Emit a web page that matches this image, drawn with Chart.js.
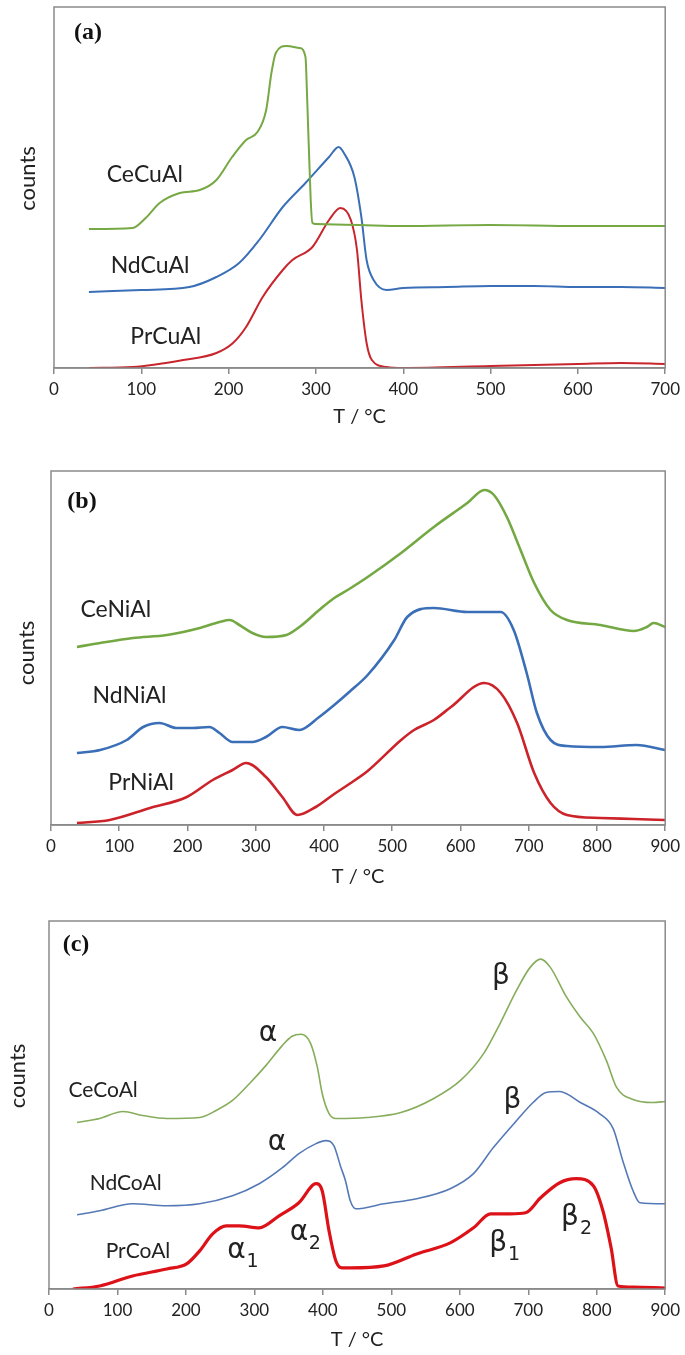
<!DOCTYPE html>
<html>
<head>
<meta charset="utf-8">
<title>TPR profiles</title>
<script src="https://cdn.jsdelivr.net/npm/chart.js@4.4.1/dist/chart.umd.min.js"></script>
<style>
  body { margin: 0; background: #fff; width: 685px; height: 1355px; position: relative; overflow: hidden; }
  .panel { position: absolute; left: 0; width: 685px; }
</style>
</head>
<body>
<div class="panel" style="top:0;height:440px"><canvas id="chartA"></canvas></div>
<div class="panel" style="top:440px;height:460px"><canvas id="chartB"></canvas></div>
<div class="panel" style="top:900px;height:455px"><canvas id="chartC"></canvas></div>
<script>
// ============================================
// Data (T in °C, counts in arbitrary units)
// ============================================

// (a) CuAl series
const cuT_Ce = [40, 90, 105, 121, 144, 167, 186, 204, 220, 233, 243, 249, 254, 266, 281, 288, 290, 294, 296, 300, 350, 400, 500, 600, 700];
const cuCe   = [139, 140, 150, 165, 175, 178, 188, 211, 228, 236, 258, 295, 315, 322, 320, 311, 268, 168, 145, 144, 143, 142, 143, 142, 142];
const cuT_Nd = [40, 100, 155, 186, 212, 235, 262, 288, 315, 326, 332, 344, 352, 358, 366, 381, 400, 450, 500, 550, 600, 650, 700];
const cuNd   = [76, 78, 81, 91, 105, 128, 161, 185, 211, 221, 215, 191, 151, 108, 88, 78, 80, 81, 82, 82, 81, 81, 80];
const cuT_Pr = [40, 90, 148, 186, 205, 220, 239, 262, 273, 296, 315, 328, 340, 347, 352, 358, 364, 381, 400, 500, 600, 650, 700];
const cuPr   = [0, 1, 8, 15, 25, 41, 71, 98, 108, 121, 148, 160, 148, 118, 68, 25, 8, 1, 0, 2, 4, 5, 4];
const cuNames      = ['CeCuAl', 'NdCuAl', 'PrCuAl'];
const cuNameT      = [104, 110, 128];
const cuNameCounts = [193, 102, 31];

// (b) NiAl series
const niT_Ce = [38, 72, 120, 170, 218, 247, 262, 276, 295, 315, 345, 364, 393, 415, 437, 464, 513, 561, 610, 635, 649, 668, 688, 708, 732, 756, 805, 854, 873, 883, 900];
const niCe   = [178, 182, 187, 190, 197, 203, 205, 200, 192, 188, 190, 198, 215, 227, 236, 248, 272, 298, 322, 335, 330, 308, 275, 242, 215, 205, 200, 194, 198, 202, 198];
const niT_Nd = [38, 72, 111, 135, 159, 184, 208, 232, 247, 266, 295, 315, 339, 364, 393, 415, 437, 464, 503, 522, 561, 610, 659, 678, 697, 712, 732, 756, 805, 858, 900];
const niNd   = [72, 75, 85, 98, 102, 97, 97, 98, 92, 83, 83, 88, 98, 95, 108, 120, 133, 150, 185, 208, 217, 213, 213, 195, 152, 112, 85, 79, 78, 80, 75];
const niT_Pr = [38, 86, 145, 199, 237, 266, 286, 315, 339, 361, 388, 415, 437, 464, 513, 532, 561, 586, 635, 659, 683, 708, 732, 756, 805, 854, 900];
const niPr   = [2, 5, 17, 28, 45, 55, 62, 48, 28, 10, 18, 31, 41, 54, 85, 95, 105, 118, 142, 132, 102, 52, 22, 10, 7, 6, 5];
const niNames      = ['CeNiAl', 'NdNiAl', 'PrNiAl'];
const niNameT      = [95, 115, 132];
const niNameCounts = [215, 129, 42];

// (c) CoAl series
const coT_Ce = [41, 74, 108, 137, 172, 220, 244, 268, 293, 317, 341, 355, 368, 382, 392, 399, 409, 419, 464, 514, 562, 601, 635, 659, 683, 703, 718, 732, 756, 776, 795, 814, 829, 853, 882, 900];
const coCe   = [166, 170, 177, 173, 170, 171, 178, 188, 205, 223, 243, 252, 254, 245, 221, 195, 175, 170, 171, 176, 190, 208, 235, 265, 298, 321, 329, 321, 291, 271, 255, 228, 201, 189, 186, 187];
const coT_Nd = [41, 74, 122, 172, 220, 268, 307, 341, 365, 390, 404, 416, 426, 433, 440, 448, 489, 537, 586, 620, 649, 683, 707, 726, 746, 776, 804, 824, 838, 853, 863, 900];
const coNd   = [74, 78, 85, 83, 85, 93, 105, 121, 135, 145, 148, 143, 122, 108, 88, 80, 85, 90, 100, 115, 141, 168, 186, 196, 197, 186, 175, 160, 128, 98, 86, 85];
const coT_Pr = [35, 74, 122, 172, 201, 220, 239, 259, 278, 307, 336, 365, 390, 399, 409, 419, 428, 441, 489, 537, 586, 620, 645, 674, 696, 718, 746, 770, 795, 809, 821, 831, 853, 900];
const coPr   = [0, 3, 13, 20, 25, 38, 55, 63, 63, 61, 73, 86, 105, 98, 58, 28, 21, 21, 23, 35, 46, 61, 75, 75, 76, 91, 106, 110, 103, 78, 41, 3, 2, 1];
const coNames      = ['CeCoAl', 'NdCoAl', 'PrCoAl'];
const coNameT      = [79, 112, 130];
const coNameCounts = [198, 105, 38];

// peak labels in (c)
const peakText   = ['α', 'α', 'α', 'α', 'β', 'β', 'β', 'β'];
const peakSub    = ['', '', '1', '2', '', '', '1', '2'];
const peakT      = [320, 333, 274, 365, 660, 677, 656, 761];
const peakCounts = [255, 146, 38, 56, 311, 188, 45, 71];

// ============================================
// Chart helpers
// ============================================
const SANS = "Lato, 'Open Sans', sans-serif";
Chart.defaults.font.family = SANS;
Chart.defaults.color = '#222';

const AXIS_GREY = '#8a8a8a';

function pts(xs, ys) {
    return xs.map((x, i) => ({ x: x, y: ys[i] }));
}

function line(label, xs, ys, color, width) {
    return {
        label: label,
        data: pts(xs, ys),
        borderColor: color,
        backgroundColor: color,
        borderWidth: width,
        pointRadius: 0,
        fill: false,
        cubicInterpolationMode: 'monotone'
    };
}

function xScale(max, height, titlePad) {
    return {
        type: 'linear',
        min: 0,
        max: max,
        ticks: { stepSize: 100, autoSkip: false, maxRotation: 0, padding: 5, font: { size: 17 }, color: '#222' },
        grid: { drawOnChartArea: false, drawTicks: true, tickLength: 6, color: AXIS_GREY, lineWidth: 1.5 },
        border: { color: AXIS_GREY, width: 1.5 },
        title: { display: true, text: 'T / °C', font: { size: 20 }, color: '#222', padding: { top: 0, bottom: titlePad } },
        afterFit: function(scale) { scale.height = height; }
    };
}

// y axis carries no ticks; its "counts" title is drawn by the decor plugin
function yScale(max, width) {
    return {
        type: 'linear',
        min: 0,
        max: max,
        ticks: { display: false },
        grid: { display: false },
        border: { display: false },
        title: { display: false, text: 'counts' },
        afterFit: function(scale) { scale.width = width; }
    };
}

// frame, axis title, panel letter and text labels
const decorPlugin = {
    id: 'decor',
    afterDraw(chart, args, opts) {
        const { ctx, chartArea: a, scales } = chart;
        const xs = scales.x, ys = scales.y;
        ctx.save();
        ctx.strokeStyle = AXIS_GREY;
        ctx.lineWidth = 1.5;
        ctx.strokeRect(a.left, a.top, a.right - a.left, a.bottom - a.top);

        ctx.textAlign = 'center';
        ctx.textBaseline = 'middle';

        // rotated y title
        ctx.save();
        ctx.translate(opts.countsX, (a.top + a.bottom) / 2 + opts.countsDy);
        ctx.rotate(-Math.PI / 2);
        ctx.fillStyle = '#222';
        ctx.font = '22px ' + SANS;
        ctx.fillText(ys.options.title.text, 0, 0);
        ctx.restore();

        ctx.fillStyle = '#111';
        ctx.font = "bold 24px 'Liberation Serif', 'Times New Roman', serif";
        ctx.fillText(opts.letter, a.left + opts.letterDx, a.top + opts.letterDy);

        ctx.fillStyle = '#222';
        ctx.font = opts.nameSize + 'px ' + SANS;
        opts.names.forEach((n, i) => {
            ctx.fillText(n, xs.getPixelForValue(opts.nameT[i]), ys.getPixelForValue(opts.nameCounts[i]));
        });

        if (opts.peaks) {
            opts.peaks.text.forEach((t, i) => {
                const px = xs.getPixelForValue(opts.peaks.T[i]);
                const py = ys.getPixelForValue(opts.peaks.counts[i]);
                ctx.font = "28px 'DejaVu Sans', 'Noto Sans', sans-serif";
                ctx.fillText(t, px, py);
                if (opts.peaks.sub[i]) {
                    ctx.font = "19px 'DejaVu Sans', 'Noto Sans', sans-serif";
                    ctx.fillText(opts.peaks.sub[i], px + 16, py + 11);
                }
            });
        }
        ctx.restore();
    }
};

function makeChart(id, datasets, xOpts, yOpts, padding, decor) {
    return new Chart(document.getElementById(id), {
        type: 'line',
        data: { datasets: datasets },
        options: {
            responsive: true,
            maintainAspectRatio: false,
            animation: false,
            layout: { padding: padding },
            plugins: { legend: { display: false }, tooltip: { enabled: false }, decor: decor },
            scales: { x: xOpts, y: yOpts }
        },
        plugins: [decorPlugin]
    });
}

// (a)
makeChart('chartA', [
    line('CeCuAl', cuT_Ce, cuCe, '#76a843', 2),
    line('NdCuAl', cuT_Nd, cuNd, '#3a6fb7', 2),
    line('PrCuAl', cuT_Pr, cuPr, '#c8262d', 2)
], xScale(700, 72, 11), yScale(361, 54), { top: 7, right: 18, bottom: 0, left: 0 }, {
    letter: '(a)', letterDx: 34, letterDy: 26, countsX: 28, countsDy: -9,
    names: cuNames, nameT: cuNameT, nameCounts: cuNameCounts, nameSize: 23
});

// (b)
makeChart('chartB', [
    line('CeNiAl', niT_Ce, niCe, '#74a843', 2.6),
    line('NdNiAl', niT_Nd, niNd, '#3a6fb7', 2.6),
    line('PrNiAl', niT_Pr, niPr, '#cc232b', 2.6)
], xScale(900, 75, 11), yScale(354, 51), { top: 31, right: 18, bottom: 0, left: 0 }, {
    letter: '(b)', letterDx: 31, letterDy: 31, countsX: 27, countsDy: 5,
    names: niNames, nameT: niNameT, nameCounts: niNameCounts, nameSize: 23
});

// (c)
makeChart('chartC', [
    line('CeCoAl', coT_Ce, coCe, '#86ad5c', 1.6),
    line('NdCoAl', coT_Nd, coNd, '#5579b6', 1.6),
    line('PrCoAl', coT_Pr, coPr, '#dd1219', 3.2)
], xScale(900, 66, 3), yScale(367, 49), { top: 21, right: 18, bottom: 0, left: 0 }, {
    letter: '(c)', letterDx: 27, letterDy: 24, countsX: 18, countsDy: -29,
    names: coNames, nameT: coNameT, nameCounts: coNameCounts, nameSize: 21,
    peaks: { text: peakText, sub: peakSub, T: peakT, counts: peakCounts }
});
</script>
</body>
</html>
